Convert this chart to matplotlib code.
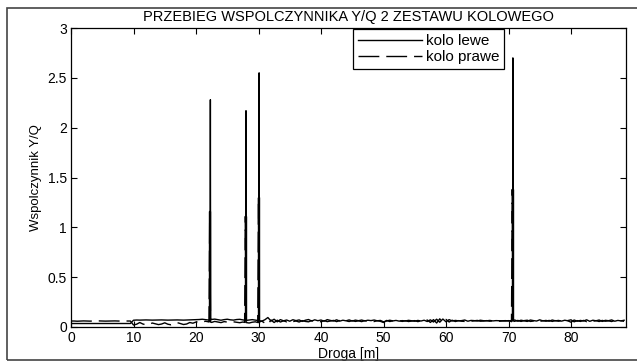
import numpy as np
import matplotlib
matplotlib.use("Agg")
import matplotlib.pyplot as plt
from matplotlib.patches import Rectangle

plt.rcParams['font.family'] = ['Liberation Sans', 'DejaVu Sans']

# baseline samples every 0.5 m
step = 0.5
kolo_lewe = [
    0.035, 0.035, 0.035, 0.036, 0.035, 0.034, 0.035, 0.035, 0.036, 0.035, 0.035, 0.034, 0.035, 0.035, 0.035, 0.036, 0.035, 0.035, 0.034, 0.035,
    0.068, 0.070, 0.069, 0.070, 0.071, 0.070, 0.069, 0.070, 0.070, 0.071, 0.070, 0.069, 0.070, 0.070, 0.071, 0.070, 0.069, 0.070, 0.070, 0.071,
    0.072, 0.075, 0.078, 0.074, 0.070, 0.076, 0.079, 0.073, 0.068, 0.074, 0.078, 0.072, 0.069, 0.075, 0.077, 0.071, 0.066, 0.070, 0.074, 0.069,
    0.065, 0.058, 0.072, 0.095, 0.060, 0.078, 0.052, 0.074, 0.062, 0.070, 0.058, 0.073, 0.064, 0.071, 0.056, 0.068, 0.075, 0.060, 0.072, 0.063,
    0.070, 0.058, 0.074, 0.066, 0.060, 0.072, 0.059, 0.068, 0.062, 0.071, 0.060, 0.069, 0.063, 0.070, 0.061, 0.068, 0.064, 0.070, 0.062, 0.066,
    0.052, 0.060, 0.068, 0.061, 0.066, 0.059, 0.064, 0.060, 0.067, 0.062, 0.058, 0.066, 0.060, 0.068, 0.055, 0.072, 0.050, 0.078, 0.048, 0.080,
    0.052, 0.074, 0.060, 0.066, 0.062, 0.064, 0.070, 0.058, 0.066, 0.064, 0.060, 0.068, 0.063, 0.062, 0.066, 0.061, 0.064, 0.063, 0.062, 0.064,
    0.060, 0.066, 0.070, 0.058, 0.068, 0.062, 0.056, 0.070, 0.064, 0.060, 0.072, 0.061, 0.066, 0.058, 0.070, 0.062, 0.066, 0.059, 0.068, 0.062,
    0.048, 0.070, 0.058, 0.066, 0.060, 0.072, 0.057, 0.068, 0.062, 0.070, 0.056, 0.067, 0.063, 0.071, 0.058, 0.066, 0.061, 0.068,
]
kolo_prawe = [
    0.060, 0.060, 0.058, 0.060, 0.061, 0.060, 0.059, 0.060, 0.060, 0.061, 0.060, 0.059, 0.060, 0.060, 0.061, 0.060, 0.059, 0.060, 0.060, 0.060,
    0.020, 0.028, 0.045, 0.030, 0.022, 0.025, 0.040, 0.032, 0.024, 0.030, 0.042, 0.028, 0.022, 0.030, 0.044, 0.034, 0.025, 0.030, 0.045, 0.038,
    0.050, 0.055, 0.048, 0.058, 0.052, 0.046, 0.056, 0.050, 0.044, 0.054, 0.049, 0.045, 0.052, 0.047, 0.043, 0.050, 0.045, 0.040, 0.048, 0.052,
    0.045, 0.060, 0.040, 0.025, 0.070, 0.045, 0.068, 0.050, 0.062, 0.052, 0.066, 0.054, 0.060, 0.050, 0.064, 0.056, 0.052, 0.064, 0.055, 0.060,
    0.052, 0.064, 0.054, 0.060, 0.066, 0.054, 0.065, 0.056, 0.062, 0.055, 0.064, 0.056, 0.062, 0.054, 0.064, 0.056, 0.060, 0.055, 0.063, 0.057,
    0.045, 0.066, 0.055, 0.062, 0.054, 0.064, 0.056, 0.063, 0.055, 0.060, 0.064, 0.054, 0.063, 0.052, 0.070, 0.046, 0.074, 0.040, 0.082, 0.045,
    0.076, 0.050, 0.068, 0.055, 0.064, 0.058, 0.056, 0.064, 0.058, 0.062, 0.066, 0.058, 0.060, 0.064, 0.058, 0.062, 0.060, 0.058, 0.061, 0.060,
    0.064, 0.054, 0.058, 0.066, 0.056, 0.064, 0.068, 0.056, 0.060, 0.066, 0.055, 0.064, 0.058, 0.066, 0.056, 0.064, 0.058, 0.065, 0.057, 0.064,
    0.072, 0.052, 0.064, 0.056, 0.066, 0.054, 0.065, 0.057, 0.064, 0.055, 0.066, 0.058, 0.062, 0.055, 0.066, 0.058, 0.063, 0.057,
]

# peaks (position [m], value)
spike_x_lewe = [22.3, 28.0, 30.1, 70.7]
spike_y_lewe = [2.28, 2.17, 2.55, 2.70]
spike_x_prawe = [22.2, 27.9, 30.0, 70.6]
spike_y_prawe = [1.16, 1.11, 1.30, 1.38]

xticks = [0, 10, 20, 30, 40, 50, 60, 70, 80]
yticks = [0, 0.5, 1, 1.5, 2, 2.5, 3]
ytick_labels = ['0', '0.5', '1', '1.5', '2', '2.5', '3']


def with_spikes(base, sx, sy, half):
    x = list(np.arange(len(base)) * step)
    y = list(base)
    for px, py in zip(sx, sy):
        b = np.interp(px, x, y)
        i = int(np.searchsorted(x, px))
        x[i:i] = [px - half, px, px + half]
        y[i:i] = [b, py, b]
    return np.array(x), np.array(y)


xl, yl = with_spikes(kolo_lewe, spike_x_lewe, spike_y_lewe, 0.04)
xp, yp = with_spikes(kolo_prawe, spike_x_prawe, spike_y_prawe, 0.12)

fig = plt.figure(figsize=(6.37, 3.63), dpi=100)
fig.patches.append(Rectangle((7 / 637, 3 / 363), 1.0, 352 / 363, transform=fig.transFigure,
                             fill=False, edgecolor='#444444', lw=1.2))
ax = fig.add_axes([71 / 637, 36 / 363, 555 / 637, 299 / 363])

ax.plot(xl, yl, color='black', lw=1.0, label='kolo lewe')
ax.plot(xp, yp, color='black', lw=1.0, ls=(0, (15, 5)), label='kolo prawe')
# the lower part of each peak is drawn by both wheels, solid in the source
for px, py in zip(spike_x_prawe, spike_y_prawe):
    ax.vlines([px - 0.06, px + 0.06], 0.06, py, color='black', lw=1.0)

ax.set_xlim(0, 88.8)
ax.set_ylim(0, 3)
ax.set_xticks(xticks)
ax.set_yticks(yticks)
ax.set_yticklabels(ytick_labels)
ax.tick_params(direction='in', length=4, width=0.8, top=True, right=True, labelsize=10, pad=3)
for s in ax.spines.values():
    s.set_linewidth(0.9)

ax.set_title('PRZEBIEG WSPOLCZYNNIKA Y/Q 2 ZESTAWU KOLOWEGO', fontsize=10.5, pad=5)
ax.set_xlabel('Droga [m]', fontsize=10, labelpad=1)
ax.set_ylabel('Wspolczynnik Y/Q', fontsize=9.5, labelpad=4)

leg = ax.legend(loc='upper left', bbox_to_anchor=(0.508, 0.995), fancybox=False, framealpha=1,
                edgecolor='black', fontsize=11, handlelength=4.2, borderpad=0.3, labelspacing=0.15,
                handletextpad=0.3, borderaxespad=0)
leg.get_frame().set_linewidth(0.9)

fig.savefig('out.png', dpi=100)
